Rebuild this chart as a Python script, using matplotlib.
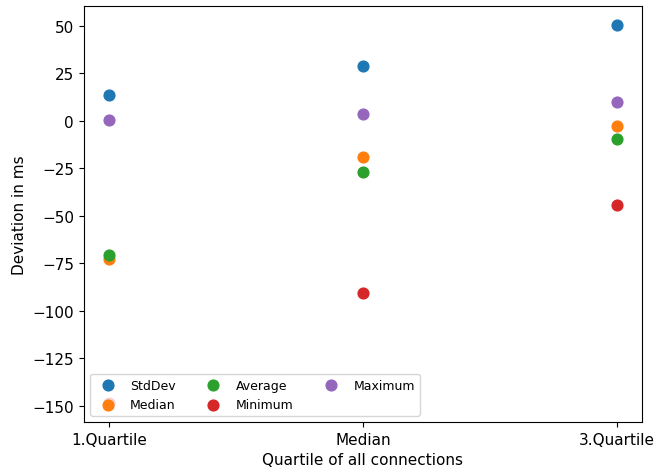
import numpy as np
import matplotlib.pyplot as plt

quartiles = ['1.Quartile', 'Median', '3.Quartile']
stddev = [13.4, 28.6, 50.4]
median = [-72.8, -19.1, -3.0]
average = [-70.5, -27.1, -9.4]
minimum = [-148.7, -90.6, -44.3]
maximum = [0.3, 3.8, 9.9]

plt.rcParams['font.size'] = 11

fig, ax = plt.subplots(figsize=(6.55, 4.77), dpi=100)

ax.scatter(quartiles, stddev, s=60, label='StdDev')
ax.scatter(quartiles, median, s=60, label='Median')
ax.scatter(quartiles, average, s=60, label='Average')
ax.scatter(quartiles, minimum, s=60, label='Minimum')
ax.scatter(quartiles, maximum, s=60, label='Maximum')

ax.set_xlabel('Quartile of all connections')
ax.set_ylabel('Deviation in ms')
ax.legend(loc='lower left', ncol=3, fontsize=9)

fig.subplots_adjust(left=0.128, right=0.980, top=0.985, bottom=0.113)
fig.savefig('out.png')
